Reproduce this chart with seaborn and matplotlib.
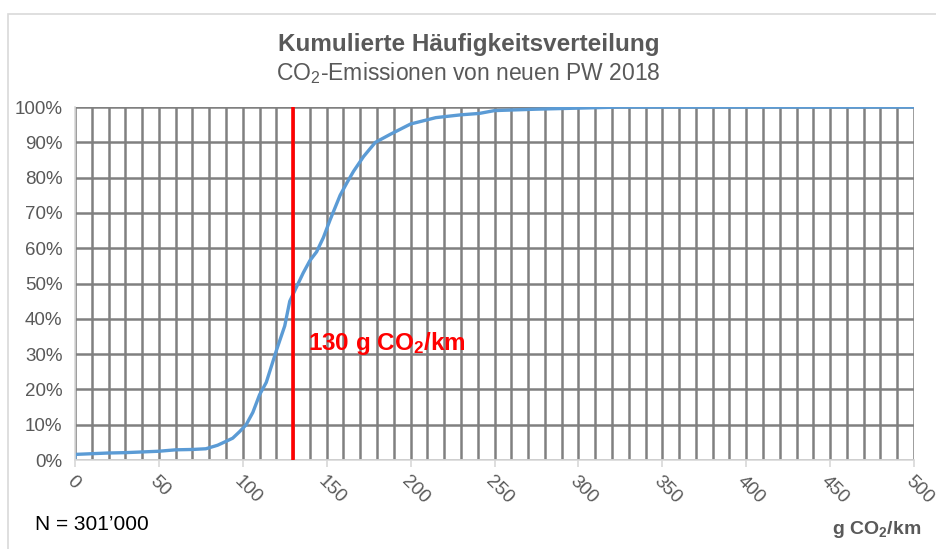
import matplotlib
matplotlib.use("Agg")
import matplotlib.pyplot as plt
import matplotlib.ticker as mticker
from matplotlib.patches import Rectangle
import numpy as np
import seaborn as sns

# DATA
co2_g_km = [0, 0, 10, 20, 30, 40, 50, 60, 70, 78, 85, 90, 94, 98, 102, 106, 110, 114,
            120, 125, 128, 132, 136, 140, 144, 148, 152, 158, 162, 166, 172, 179, 188,
            200, 215, 230, 241, 250, 275, 300, 325, 350, 400, 450, 500]
cum_share_pct = [0, 1.6, 1.8, 2.0, 2.1, 2.3, 2.5, 2.9, 3.0, 3.2, 4.2, 5.3, 6.2, 8.0, 10.0,
                 13.5, 18.5, 22.0, 31.0, 38.0, 45.0, 49.0, 53.0, 56.5, 59.0, 63.0, 68.0,
                 75.0, 78.5, 81.8, 86.0, 90.0, 92.3, 95.2, 97.0, 97.8, 98.2, 99.0, 99.4,
                 99.7, 100.0, 100.0, 100.0, 100.0, 100.0]
target_g_km = 130
x_tick_values = list(range(0, 501, 50))
y_tick_values = list(range(0, 101, 10))

#STYLE
sns.set_theme(style="white")
plt.rcParams['font.family'] = ['Liberation Sans', 'DejaVu Sans']
plt.rcParams['mathtext.fontset'] = 'custom'
plt.rcParams['mathtext.rm'] = 'Liberation Sans'
plt.rcParams['mathtext.bf'] = 'Liberation Sans:bold'
plt.rcParams['mathtext.default'] = 'regular'

textGrey = '#595959'
gridGrey = '#808080'

fig = plt.figure(figsize=(9.37, 5.49), dpi=100)
ax = fig.add_axes([0.080, 0.162, 0.8955, 0.643])

#OUTER CHART BORDER
fig.patches.append(Rectangle((8 / 937, -0.05), 1.2, 1 - 14 / 549 + 0.05,
                             transform=fig.transFigure, fill=False,
                             edgecolor='#d9d9d9', linewidth=1.2))

#GRID
ax.set_xlim(0, 500)
ax.set_ylim(0, 100)
ax.xaxis.set_minor_locator(mticker.MultipleLocator(10))
ax.set_xticks(x_tick_values)
ax.set_yticks(y_tick_values)
ax.grid(which='both', axis='x', color=gridGrey, linewidth=1.8)
ax.grid(which='major', axis='y', color=gridGrey, linewidth=1.8)
ax.set_axisbelow(True)

#CUMULATIVE CURVE
sns.lineplot(x=co2_g_km, y=cum_share_pct, ax=ax, estimator=None, sort=False,
             color='#5B9BD5', linewidth=2.4)

#130 G LINE
ax.axvline(target_g_km, color='#FF0000', linewidth=2.6, zorder=5)
ax.text(target_g_km + 9, 33, r'130 g CO$_\mathbf{2}$/km', color='#FF0000',
        fontsize=17.5, fontweight='bold', va='center', ha='left')

#AXES STYLE
for side in ['top', 'right']:
    ax.spines[side].set_visible(False)
ax.spines['bottom'].set_color('#d9d9d9')
ax.spines['left'].set_color('#d9d9d9')
ax.spines['bottom'].set_linewidth(1.2)
ax.spines['left'].set_linewidth(1.2)
ax.yaxis.set_major_formatter(mticker.PercentFormatter(100, decimals=0))
ax.tick_params(axis='y', length=0, labelsize=13.5, labelcolor=textGrey, pad=9)
ax.tick_params(axis='x', which='major', bottom=True, length=5, color='#d9d9d9',
               labelsize=13.5, labelcolor=textGrey, pad=4)
ax.tick_params(axis='x', which='minor', bottom=False)
for lbl in ax.get_xticklabels():
    lbl.set_rotation(-45)
    lbl.set_ha('left')
    lbl.set_va('top')
    lbl.set_rotation_mode('anchor')
ax.set_xlabel('')
ax.set_ylabel('')

#TITLES AND NOTES
fig.text(0.5, 1 - 45 / 549, 'Kumulierte Häufigkeitsverteilung', ha='center', va='center',
         fontsize=17.5, fontweight='bold', color=textGrey)
fig.text(0.5, 1 - 73 / 549, r'CO$_2$-Emissionen von neuen PW 2018', ha='center',
         va='center', fontsize=16.5, color=textGrey)
fig.text(35 / 937, 1 - 524 / 549, 'N = 301\u2019000', ha='left', va='center',
         fontsize=15, color='black')
fig.text(921 / 937, 1 - 530 / 549, r'g CO$_\mathbf{2}$/km', ha='right', va='center',
         fontsize=14, fontweight='bold', color=textGrey)

fig.savefig('out.png', dpi=100)
